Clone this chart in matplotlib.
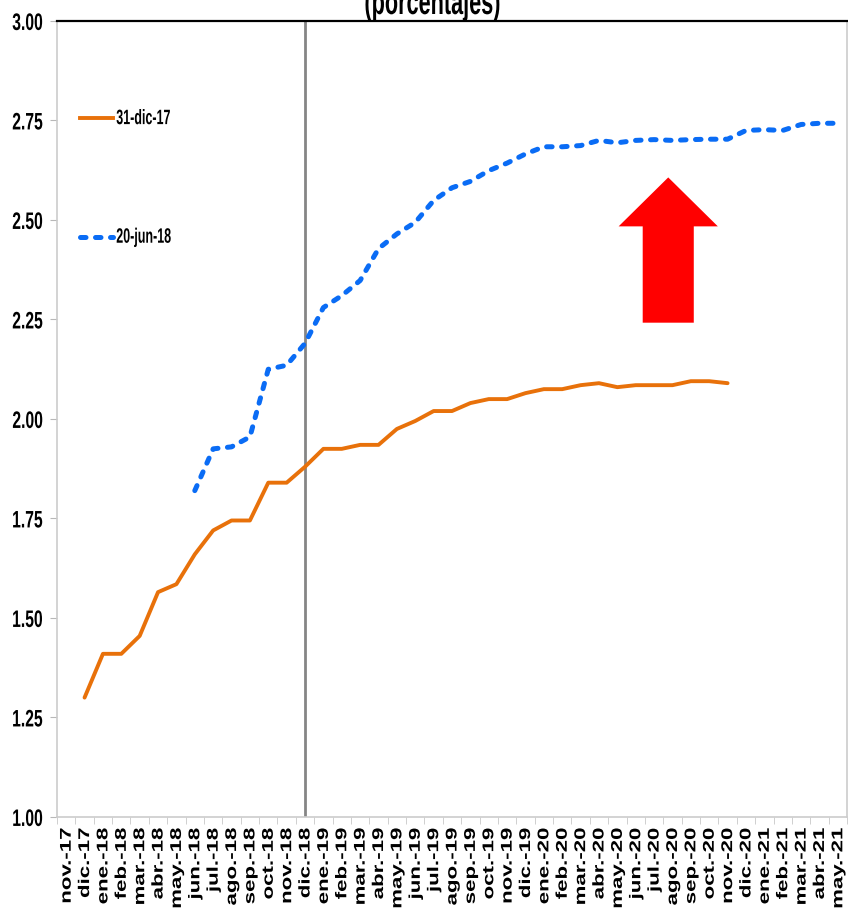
import matplotlib
matplotlib.use("Agg")
import matplotlib.pyplot as plt
from matplotlib.patches import FancyArrow
from matplotlib.patheffects import AbstractPathEffect
from matplotlib.transforms import Affine2D
import numpy as np

# Month labels on the x axis
months = [
    "nov.-17", "dic.-17",
    "ene.-18", "feb.-18", "mar.-18", "abr.-18", "may.-18", "jun.-18",
    "jul.-18", "ago.-18", "sep.-18", "oct.-18", "nov.-18", "dic.-18",
    "ene.-19", "feb.-19", "mar.-19", "abr.-19", "may.-19", "jun.-19",
    "jul.-19", "ago.-19", "sep.-19", "oct.-19", "nov.-19", "dic.-19",
    "ene.-20", "feb.-20", "mar.-20", "abr.-20", "may.-20", "jun.-20",
    "jul.-20", "ago.-20", "sep.-20", "oct.-20", "nov.-20", "dic.-20",
    "ene.-21", "feb.-21", "mar.-21", "abr.-21", "may.-21",
]

# Curve as of 31-dic-17 (dic.-17 .. nov.-20)
dic17_label = "31-dic-17"
dic17_start = "dic.-17"
dic17_values = [
    1.30, 1.41, 1.41, 1.455, 1.565, 1.585, 1.66, 1.72, 1.745, 1.745,
    1.84, 1.84, 1.88, 1.925, 1.925, 1.935, 1.935, 1.975, 1.995, 2.02,
    2.02, 2.04, 2.05, 2.05, 2.065, 2.075, 2.075, 2.085, 2.09, 2.08,
    2.085, 2.085, 2.085, 2.095, 2.095, 2.09,
]

# Curve as of 20-jun-18 (jun.-18 .. may.-21)
jun18_label = "20-jun-18"
jun18_start = "jun.-18"
jun18_values = [
    1.82, 1.925, 1.93, 1.955, 2.125, 2.135, 2.19, 2.28, 2.31, 2.348,
    2.428, 2.465, 2.494, 2.549, 2.581, 2.597, 2.624, 2.643, 2.666, 2.684,
    2.684, 2.687, 2.70, 2.694, 2.70, 2.702, 2.70, 2.702, 2.703, 2.703,
    2.725, 2.727, 2.725, 2.74, 2.743, 2.743,
]

vline_month = "dic.-18"
yticks = [1.00, 1.25, 1.50, 1.75, 2.00, 2.25, 2.50, 2.75, 3.00]

ORANGE = "#e8710a"
BLUE = "#0a6cf5"
BLUE_DASH = (0, (1.1, 1.9))


class Stretch(AbstractPathEffect):
    """Stretch glyphs: sx along the text, sy across it (narrow-font look).

    anchor is the fixed point along the text (0 start, 0.5 middle, 1 end),
    cy the fixed height in glyph units (em = 100).
    """

    def __init__(self, sx=1.0, sy=1.0, anchor=0.0, cy=36.0):
        super().__init__()
        self.sx, self.sy, self.anchor, self.cy = sx, sy, anchor, cy

    def draw_path(self, renderer, gc, tpath, affine, rgbFace=None):
        ext = tpath.get_extents()
        cx = ext.x0 + self.anchor * (ext.x1 - ext.x0)
        t = (Affine2D().translate(-cx, -self.cy).scale(self.sx, self.sy)
             .translate(cx, self.cy) + affine)
        renderer.draw_path(gc, tpath, t, rgbFace)


plt.rcParams["font.family"] = ["Liberation Sans", "DejaVu Sans"]

fig = plt.figure(figsize=(8.48, 9.13), dpi=100)
ax = fig.add_axes([57 / 848, 96 / 913, 790 / 848, 796 / 913])

x_all = np.arange(len(months))
i0 = months.index(dic17_start)
i1 = months.index(jun18_start)
x_dic17 = x_all[i0:i0 + len(dic17_values)]
x_jun18 = x_all[i1:i1 + len(jun18_values)]

ax.plot(x_dic17, dic17_values, color=ORANGE, linewidth=2.8, zorder=3,
        solid_capstyle="round", solid_joinstyle="round")
ax.plot(x_jun18, jun18_values, color=BLUE, linewidth=3.6, zorder=3,
        linestyle=BLUE_DASH, dash_capstyle="round")

# vertical marker at dic.-18
ax.axvline(months.index(vline_month), color="#858585", linewidth=2.0, zorder=2)

# red arrow (annotation)
ax.add_patch(FancyArrow(32.77, 2.242, 0, 0.365, width=2.78, head_width=5.4,
                        head_length=0.123, length_includes_head=True,
                        color="#ff0000", linewidth=0, zorder=4))

ax.set_xlim(-0.5, len(months) - 0.5)
ax.set_ylim(1.0, 3.0)

# y labels: narrow bold digits (small font stretched vertically)
ax.set_yticks(yticks)
ax.set_yticklabels([f"{v:.2f}" for v in yticks], fontsize=11.3,
                   fontweight="bold", path_effects=[Stretch(sy=1.52)])
ax.tick_params(axis="y", length=5, color="#b8b8b8", pad=5)

# x labels: rotated, stretched along the text from the top end
ax.set_xticks(x_all)
ax.set_xticklabels(months, rotation=90, fontsize=11.2, fontweight="bold",
                   path_effects=[Stretch(sx=1.43, anchor=1)])
ax.set_xticks(np.arange(-0.5, len(months), 1), minor=True)
ax.tick_params(axis="x", which="major", length=0, pad=8)
ax.tick_params(axis="x", which="minor", length=5, color="#c8c8c8")

for side in ["left", "right", "bottom"]:
    ax.spines[side].set_color("#cccccc")
    ax.spines[side].set_linewidth(1.2)
ax.spines["top"].set_color("#000000")
ax.spines["top"].set_linewidth(1.6)

# in-plot legend entries
leg_x0, leg_x1, leg_tx = 0.029, 0.071, 0.075
for y, label, kw in [
    (0.878, dic17_label, dict(color=ORANGE, linewidth=2.8)),
    (0.729, jun18_label, dict(color=BLUE, linewidth=3.6, linestyle=BLUE_DASH,
                              dash_capstyle="round")),
]:
    ax.plot([leg_x0, leg_x1], [y, y], transform=ax.transAxes, clip_on=False, **kw)
    ax.text(leg_tx, y, label, transform=ax.transAxes, ha="left", va="center",
            fontsize=9, fontweight="bold", path_effects=[Stretch(sy=1.667)])

# title, cut off at the top of the picture like the source
fig.text(0.51, 1 - 14 / 913, "(porcentajes)", ha="center", va="baseline",
         fontsize=15.6, fontweight="bold",
         path_effects=[Stretch(sy=1.667, cy=0)])

fig.savefig("out.png", dpi=100)
